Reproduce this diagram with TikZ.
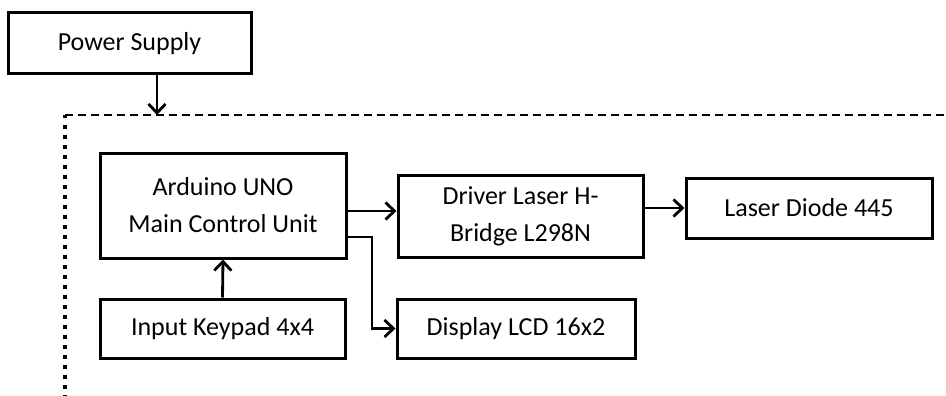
\documentclass[tikz,border=0pt]{standalone}
\usepackage{fontspec}
\setmainfont{Carlito}
\usetikzlibrary{arrows.meta}
\begin{document}
\begin{tikzpicture}[x=1pt,y=-1pt,
  blk/.style={draw=black, line width=3pt, fill=white, align=center, inner sep=0pt,
    font=\fontsize{26}{37}\selectfont},
  arr/.style={draw=black, line width=2.8pt, -{Straight Barb[length=9pt,width=17pt,line width=2.8pt]}},
  topline/.style={draw=black, line width=2.6pt, dash pattern=on 8pt off 5pt},
  sideline/.style={draw=black, line width=3.2pt, dash pattern=on 3.5pt off 6.5pt}]
\useasboundingbox (0,0) rectangle (946,396);
% container
\coordinate (ctl) at (65,115);
\coordinate (ctr) at (946,115);
\coordinate (cbl) at (65,396);
\coordinate (pin) at (157,115);
\draw[topline] (ctl) -- (ctr);
\draw[sideline] (ctl) -- (cbl);
% blocks
\node[blk, minimum width=243pt, minimum height=61pt] (power) at (129.5,43.5) {Power Supply};
\node[blk, minimum width=246pt, minimum height=105pt] (arduino) at (223,205.5) {Arduino UNO\\Main Control Unit};
\node[blk, minimum width=245pt, minimum height=82pt] (driver) at (520.5,216) {Driver Laser H-\\Bridge L298N};
\node[blk, minimum width=246pt, minimum height=60pt] (laser) at (809,208) {Laser Diode 445};
\node[blk, minimum width=245pt, minimum height=59pt] (keypad) at (222.5,328.5) {Input Keypad 4x4};
\node[blk, minimum width=238pt, minimum height=59pt] (display) at (516,328.5) {Display LCD 16x2};
% connectors
\coordinate (a2d) at (0,211);
\coordinate (a2l) at (372,237);
\draw[arr] (power.south -| pin) -- (pin);
\draw[arr] (arduino.east |- a2d) -- (driver.west |- a2d);
\draw[arr] (driver.east |- laser.west) -- (laser.west);
\draw[arr] (arduino.east |- a2l) -- (a2l) |- (display.west);
\draw[arr] (keypad.north) -- (arduino.south);
\end{tikzpicture}
\end{document}
